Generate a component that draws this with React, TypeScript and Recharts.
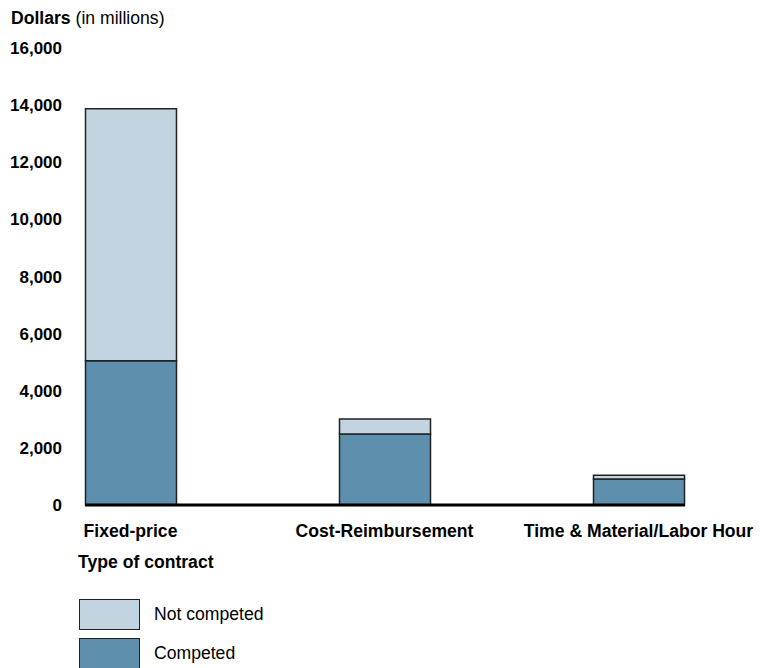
import React from "react";
import { BarChart, Bar, XAxis, YAxis } from "recharts";

const categories = ["Fixed-price", "Cost-Reimbursement", "Time & Material/Labor Hour"];
const competed = [5050, 2490, 910];
const notCompeted = [8820, 525, 135];
const yTicks = [0, 2000, 4000, 6000, 8000, 10000, 12000, 14000, 16000];
const seriesNames = ["Not competed", "Competed"];
const seriesColors = ["#c1d4df", "#5e90ae"];

const data = categories.map((c, i) => ({
  name: c,
  competed: competed[i],
  notCompeted: notCompeted[i],
}));

const FONT = "'Liberation Sans', Arial, sans-serif";
const FS = 17.6;

export default function App() {
  return (
    <div style={{ position: "relative", width: 760, height: 668, fontFamily: FONT, overflow: "hidden" }}>
      <style>{`html,body{margin:0;overflow:hidden;}`}</style>
      <div style={{ position: "absolute", left: 8, top: 8, width: 752, height: 660 }}>
        <div style={{ position: "absolute", left: 3, top: 0, fontSize: FS, lineHeight: "20px", color: "#000" }}>
          <b>Dollars</b> (in millions)
        </div>
        <BarChart
          width={752}
          height={652}
          data={data}
          margin={{ top: 40, right: 75, bottom: 0, left: 0 }}
        >
          <YAxis
            domain={[0, 16000]}
            ticks={yTicks}
            interval={0}
            width={77}
            axisLine={false}
            tickLine={false}
            tickSize={0}
            tickMargin={23}
            tickFormatter={(v: number) => v.toLocaleString("en-US")}
            tick={{ fontSize: 17, fontWeight: 700, fill: "#000", fontFamily: FONT }}
          />
          <XAxis
            dataKey="name"
            height={155}
            interval={0}
            padding={{ left: -81.5, right: -80.5 }}
            axisLine={{ stroke: "#000", strokeWidth: 3 }}
            tickLine={false}
            tickSize={6}
            tickMargin={14}
            tick={{ fontSize: FS, fontWeight: 700, fill: "#000", fontFamily: FONT }}
          />
          <Bar
            dataKey="competed"
            stackId="a"
            fill={seriesColors[1]}
            stroke="#222"
            strokeWidth={1.5}
            barSize={91}
            isAnimationActive={false}
          />
          <Bar
            dataKey="notCompeted"
            stackId="a"
            fill={seriesColors[0]}
            stroke="#222"
            strokeWidth={1.5}
            barSize={91}
            isAnimationActive={false}
          />
        </BarChart>
        <div style={{ position: "absolute", left: 70, top: 543, fontSize: FS, fontWeight: 700, color: "#000", lineHeight: "22px" }}>
          Type of contract
        </div>
        {seriesNames.map((n, i) => (
          <div key={n} style={{ position: "absolute", left: 71, top: 591 + i * 39, display: "flex", alignItems: "center" }}>
            <div style={{ width: 61, height: 31, background: seriesColors[i], border: "1px solid #222", boxSizing: "border-box" }} />
            <span style={{ marginLeft: 14, fontSize: FS, color: "#000" }}>{n}</span>
          </div>
        ))}
      </div>
    </div>
  );
}
